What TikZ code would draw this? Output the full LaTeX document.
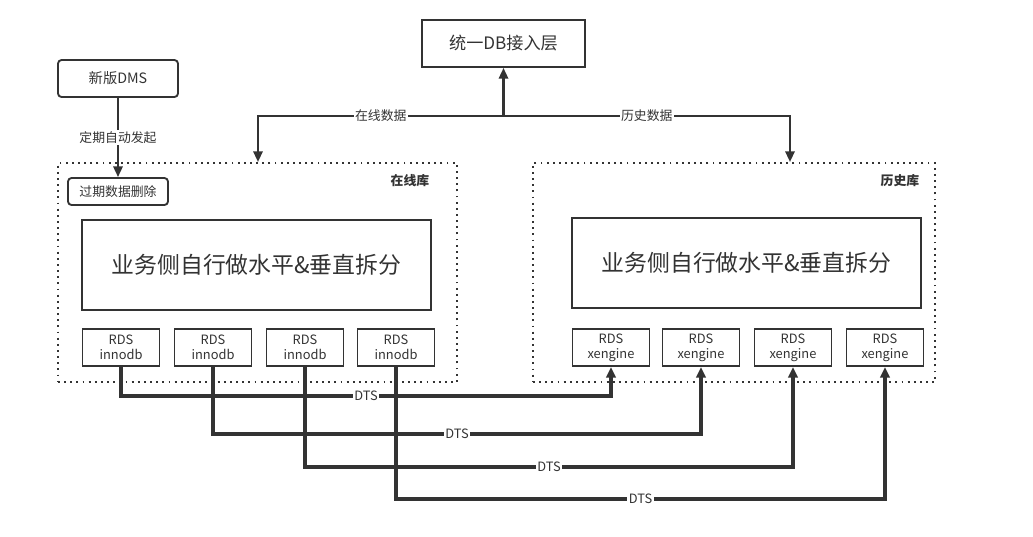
\documentclass[tikz,border=0pt]{standalone}
\usepackage{fontspec}
\newfontfamily\cjk{Noto Sans CJK SC}
\usetikzlibrary{arrows.meta}
\definecolor{ink}{HTML}{333333}

\begin{document}
\begin{tikzpicture}[x=0.7pt, y=-0.7pt, every node/.style={font=\cjk\fontsize{9}{11}\selectfont, text=ink},
  box/.style={draw=ink, line width=1.3pt, inner sep=2pt, align=center},
  rbox/.style={box, rounded corners=2.5pt},
  grp/.style={draw=ink, line width=1.4pt, dash pattern=on 1.3pt off 3pt, minimum height=153.3pt},
  rds/.style={box, minimum width=53.9pt, minimum height=25.9pt, inner sep=1pt, font=\cjk\fontsize{9}{10.5}\selectfont},
  lbl/.style={fill=white, inner sep=1pt},
  arr/.style={draw=ink, line width=1.6pt, -{Triangle[length=7.5pt,width=6.5pt]}},
  dts/.style={arr, line width=2.5pt}]
	\useasboundingbox (0,0) rectangle (1033,536);
	\node[box, minimum width=114.1pt, minimum height=32.9pt, font=\cjk\fontsize{12}{14}\selectfont] (db) at (503.5,43.5) {统一DB接入层};
	\node[rbox, minimum width=84pt, minimum height=25.9pt, font=\cjk\fontsize{10}{12}\selectfont] (dms) at (118,78.5) {新版DMS};
	\node[grp, minimum width=279.3pt] (onl) at (257.5,272.5) {};
	\node[grp, minimum width=281.4pt] (his) at (734,272.5) {};
	\node[font=\cjk\bfseries\fontsize{9}{11}\selectfont] (onlname) at (410,181) {在线库};
	\node[font=\cjk\bfseries\fontsize{9}{11}\selectfont] (hisname) at (900,181) {历史库};
	\node[rbox, minimum width=70pt, minimum height=18.9pt] (del) at (118,191.5) {过期数据删除};
	\node[box, minimum width=244.3pt, minimum height=63pt, font=\cjk\fontsize{16}{19}\selectfont] (splitL) at (256.5,265) {业务侧自行做水平\&垂直拆分};
	\node[box, minimum width=244.3pt, minimum height=63pt, font=\cjk\fontsize{16}{19}\selectfont] (splitR) at (746.5,263) {业务侧自行做水平\&垂直拆分};
	\foreach \i/\xa/\xb/\d in {1/121/611/29, 2/213/701/67, 3/305/793/100, 4/396/885/132} {
		\node[rds] (inno\i) at (\xa,347.5) {RDS\\innodb};
		\node[rds] (xeng\i) at (\xb,347.5) {RDS\\xengine};
		\draw[dts] (inno\i.south) -- ++(0,\d) -| node[lbl, pos=0.25] {DTS} (xeng\i.south);
	}
	\coordinate (hub) at (503.5,116);
	\coordinate (tapL) at (258,116);
	\coordinate (tapR) at (790,116);
	\draw[arr] (hub) -- (db);
	\draw[arr] (hub) -- node[lbl] {在线数据} (tapL) -- (tapL |- onl.north);
	\draw[arr] (hub) -- node[lbl] {历史数据} (tapR) -- (tapR |- his.north);
	\draw[arr] (dms) -- node[lbl] {定期自动发起} (del);
\end{tikzpicture}
\end{document}
